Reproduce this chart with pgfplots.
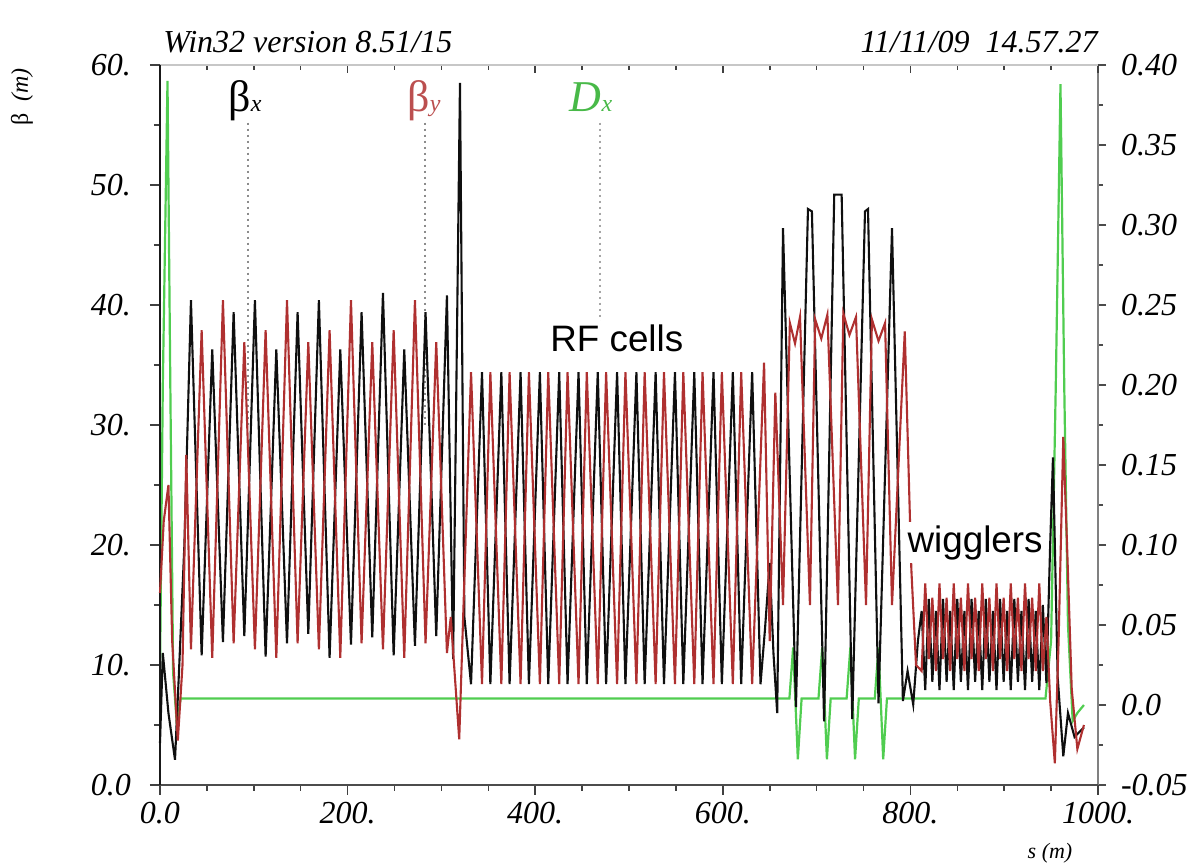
\documentclass[border=0pt]{standalone}
\usepackage{pgfplots}
\pgfplotsset{compat=1.18}
\usepackage{fontspec}
\setmainfont{Liberation Serif}
\newfontfamily\arial{Liberation Sans}
\definecolor{bx}{RGB}{15,15,15}
\definecolor{by}{RGB}{175,48,48}
\definecolor{dxc}{RGB}{80,205,80}
\newcommand{\tf}{\fontsize{16}{18}\selectfont\itshape}
\begin{document}
\begin{tikzpicture}
\useasboundingbox (-80pt,-40.5pt) rectangle (515pt,392.5pt);
% ---------- Dx axis (right) ----------
\begin{axis}[at={(0,0)},anchor=south west,width=469pt,height=360pt,scale only axis,
  xmin=0,xmax=1000,ymin=-0.05,ymax=0.40,
  axis x line=none, axis y line*=right,
  y axis line style={draw=black!50,line width=0.9pt},
  ytick={-0.05,0,0.05,0.10,0.15,0.20,0.25,0.30,0.35,0.40},
  yticklabels={-0.05,0.0,0.05,0.10,0.15,0.20,0.25,0.30,0.35,0.40},
  minor ytick={-0.025,0.025,0.075,0.125,0.175,0.225,0.275,0.325,0.375},
  tick align=outside, major tick length=4pt, minor tick length=2.5pt,
  tick style={draw=black!70,line width=0.8pt},
  yticklabel style={font=\tf,anchor=west,xshift=4pt}]
\addplot[dxc,line width=1.1pt] coordinates {
(0,0.02) (3,0.20) (8,0.39) (11,0.2) (14,0.02) (18,-0.012) (22,0.004)
(671,0.004) (675,0.036) (680,-0.034) (684,0.004)
(702,0.004) (706,0.036) (711,-0.034) (715,0.004)
(732,0.004) (736,0.036) (741,-0.034) (745,0.004)
(762,0.004) (766,0.036) (771,-0.034) (775,0.004)
(944,0.004) (950,0.04) (955,0.2) (960,0.388) (964,0.2) (968,0.05) (973,-0.01) (978,-0.005) (985,0.0)};
\end{axis}
% ---------- top axis ----------
\begin{axis}[at={(0,0)},anchor=south west,width=469pt,height=360pt,scale only axis,
  xmin=0,xmax=1000,ymin=0,ymax=60,
  axis x line*=top, axis y line=none,
  x axis line style={draw=black!22,line width=1.3pt},
  xtick={0,200,400,600,800,1000}, xticklabels={}, minor x tick num=3,
  tick align=inside, major tick length=4pt, minor tick length=2.5pt,
  tick style={draw=black!75,line width=0.8pt}]
\end{axis}
% ---------- beta axis ----------
\begin{axis}[at={(0,0)},anchor=south west,width=469pt,height=360pt,scale only axis,
  xmin=0,xmax=1000,ymin=0,ymax=60,
  axis x line*=bottom, axis y line*=left,
  x axis line style={draw=black!70,line width=1.3pt},
  y axis line style={draw=black!90,line width=1pt},
  xtick={0,200,400,600,800,1000}, xticklabels={0.0,200.,400.,600.,800.,1000.},
  minor x tick num=3,
  ytick={0,10,20,30,40,50,60}, yticklabels={0.0,10.,20.,30.,40.,50.,60.},
  minor y tick num=1,
  tick align=outside, major tick length=5pt, minor tick length=3pt,
  tick style={draw=black!75,line width=0.8pt},
  xticklabel style={font=\tf},
  yticklabel style={font=\tf,anchor=east,xshift=-6pt},
  clip=false]
\draw[black!45,dotted,line width=1pt] (axis cs:93.8,55.2) -- (axis cs:93.8,30);
\draw[black!45,dotted,line width=1pt] (axis cs:282,55.2) -- (axis cs:282,30);
\draw[black!35,dotted,line width=1pt] (axis cs:469,55.2) -- (axis cs:469,37);
\addplot[bx,line width=1.05pt] coordinates {
(0,3.5) (3,11) (9,6) (16,2.1) (20,9) (26,20)
(33.0,40.4) (44.4,10.8) (55.7,36.3) (67.1,11.9) (78.5,39.4) (89.9,12.4) (101.2,40.4) (112.6,10.7) (124.0,36.3) (135.4,11.8) (146.7,39.4) (158.1,12.6) (169.4,40.4) (180.8,10.6) (192.2,36.3) (203.6,11.7) (214.9,39.4) (226.3,12.3) (237.7,41.0) (249.1,10.8) (260.4,36.3) (271.8,11.6) (283.1,39.4) (294.5,12.4) (305.9,40.8)
(312.5,10.5) (319.8,58.5) (324.5,14) (331.6,8.4)
(343.3,34.4) (352.2,8.4) (363.9,34.4) (372.7,8.4) (384.4,34.4) (393.3,8.4) (405.0,34.4) (413.9,8.4) (425.6,34.4) (434.5,8.4) (446.2,34.4) (455.0,8.4) (466.7,34.4) (475.6,8.4) (487.3,34.4) (496.2,8.4) (507.9,34.4) (516.7,8.4) (528.4,34.4) (537.3,8.4) (549.0,34.4) (557.9,8.4) (569.6,34.4) (578.4,8.4) (590.1,34.4) (599.0,8.4) (610.7,34.4) (619.6,8.4) (631.3,34.4) (640.2,8.4)
(645,13) (650,18.5) (654,11) (658,6) (664.2,46.4) (678,6.5) (690.8,48) (695,47.8) (708,5.3) (718.8,49.2) (726.7,49.2) (738,5.5) (751.6,47.8) (754.8,48) (766,6.8) (780.4,46.4) (792,7) (797,9.5) (803,6.7) (808,12)
(812.0,14.5) (815.8,7.9) (819.6,15.5) (823.4,8.6) (827.2,14.5) (831.0,7.9) (834.8,15.5) (838.6,8.6) (842.4,14.5) (846.2,7.9) (850.0,15.5) (853.8,8.6) (857.6,14.5) (861.4,7.9) (865.2,15.5) (869.0,8.6) (872.8,14.5) (876.6,7.9) (880.4,15.5) (884.2,8.6) (888.0,14.5) (891.8,7.9) (895.6,15.5) (899.4,8.6) (903.2,14.5) (907.0,7.9) (910.8,15.5) (914.6,8.6) (918.4,14.5) (922.2,7.9) (926.0,15.5) (929.8,8.6) (933.6,14.5) (937.4,7.9) (941.2,15.0)
(945,8.5) (949,20) (952,27.3) (957,9) (963,2.4) (968,6) (975,4) (985,4.8)};
\addplot[by,line width=1.05pt] coordinates {
(0,16) (4,22) (9,25) (13,12) (19,3.7) (24,10) (28,27.5) (33.0,11.3)
(44.4,37.9) (55.7,10.6) (67.1,40.4) (78.5,11.8) (89.9,36.9) (101.2,11.3) (112.6,37.9) (124.0,10.6) (135.4,40.4) (146.7,11.8) (158.1,36.9) (169.4,11.3) (180.8,37.9) (192.2,10.6) (203.6,40.4) (214.9,11.8) (226.3,36.9) (237.7,11.3) (249.1,37.9) (260.4,10.6) (271.8,40.4) (283.1,11.8) (294.5,36.9) (305.9,11.0)
(310,14) (319,3.8) (331.6,34.4)
(343.3,8.4) (352.2,34.4) (363.9,8.4) (372.7,34.4) (384.4,8.4) (393.3,34.4) (405.0,8.4) (413.9,34.4) (425.6,8.4) (434.5,34.4) (446.2,8.4) (455.0,34.4) (466.7,8.4) (475.6,34.4) (487.3,8.4) (496.2,34.4) (507.9,8.4) (516.7,34.4) (528.4,8.4) (537.3,34.4) (549.0,8.4) (557.9,34.4) (569.6,8.4) (578.4,34.4) (590.1,8.4) (599.0,34.4) (610.7,8.4) (619.6,34.4) (631.3,8.4) (644,35.2)
(650,12) (656,32.7) (664.2,15) (671.5,38.5) (677,36.8) (682.3,39) (692.9,15) (698.5,38.8) (705,37.2) (711.5,39.2) (722.8,15) (728.5,39.3) (735,37.5) (742,39) (752.7,15) (759,38.8) (766,37) (773,38.5) (780.4,15) (794,37.8) (801,18) (806,10)
(812.0,9.5) (815.8,16.8) (819.6,10.5) (823.4,15.6) (827.2,9.5) (831.0,16.8) (834.8,10.5) (838.6,15.6) (842.4,9.5) (846.2,16.8) (850.0,10.5) (853.8,15.6) (857.6,9.5) (861.4,16.8) (865.2,10.5) (869.0,15.6) (872.8,9.5) (876.6,16.8) (880.4,10.5) (884.2,15.6) (888.0,9.5) (891.8,16.8) (895.6,10.5) (899.4,15.6) (903.2,9.5) (907.0,16.8) (910.8,10.5) (914.6,15.6) (918.4,9.5) (922.2,16.8) (926.0,10.5) (929.8,15.6) (933.6,9.5) (937.4,16.8) (941.2,9.5)
(945,14) (949,7) (954,1.8) (958,12) (963,29) (967,20) (972,8) (978,3) (985,5)};
\node[anchor=base,inner sep=0pt] at (axis cs:90.6,56.1) {\fontsize{22}{24}\selectfont β{\fontsize{12}{12}\selectfont\itshape x}};
\node[anchor=base,inner sep=0pt,text=by!85] at (axis cs:281.4,56.1) {\fontsize{22}{24}\selectfont β{\fontsize{12}{12}\selectfont\itshape y}};
\node[anchor=base,inner sep=0pt,text=dxc!90!black] at (axis cs:459.5,56.1) {\fontsize{22}{24}\selectfont\itshape D{\fontsize{12}{12}\selectfont x}};
\node[fill=white,inner sep=1.5pt] at (axis cs:487,37.25) {\arial\fontsize{18.4}{20}\selectfont RF cells};
\node[fill=white,inner sep=1.5pt] at (axis cs:869,20.2) {\arial\fontsize{18.4}{20}\selectfont wigglers};
\end{axis}
\node[anchor=base west,inner sep=0pt] at (1.5pt,366pt) {\tf Win32 version 8.51/15};
\node[anchor=base east,inner sep=0pt] at (469pt,366pt) {\tf 11/11/09\ \ 14.57.27};
\node[rotate=90,inner sep=0pt] at (-69pt,344pt) {\fontsize{12}{14}\selectfont β\ \ {\itshape (m)}};
\node[inner sep=0pt] at (445pt,-34pt) {\fontsize{11}{13}\selectfont\itshape s (m)};
\end{tikzpicture}
\end{document}
